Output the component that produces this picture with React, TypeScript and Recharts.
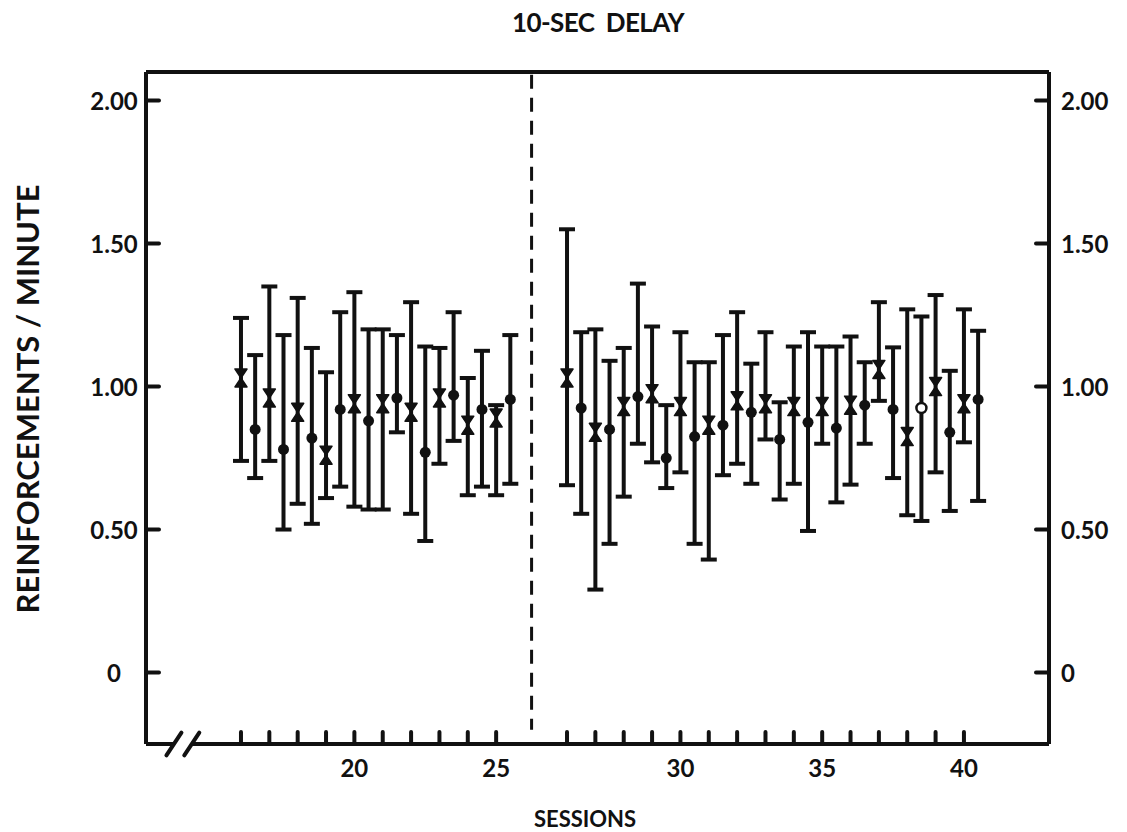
import React from 'react';
import { ComposedChart, Scatter, ErrorBar, XAxis, YAxis, ReferenceLine } from 'recharts';

// ---- data ----
const sessions = [
  16, 16.5, 17, 17.5, 18, 18.5, 19, 19.5, 20, 20.5,
  21, 21.5, 22, 22.5, 23, 23.5, 24, 24.5, 25, 25.5,
  26, 26.5, 27, 27.5, 28, 28.5, 29, 29.5, 30, 30.5,
  31, 31.5, 32, 32.5, 33, 33.5, 34, 34.5, 35, 35.5,
  36, 36.5, 37, 37.5, 38, 38.5, 39, 39.5, 40, 40.5,
];
const means = [
  1.03, 0.85, 0.96, 0.78, 0.91, 0.82, 0.76, 0.92, 0.94, 0.88,
  0.94, 0.96, 0.91, 0.77, 0.96, 0.97, 0.865, 0.92, 0.89, 0.955,
  1.03, 0.925, 0.84, 0.85, 0.93, 0.965, 0.975, 0.75, 0.93, 0.825,
  0.865, 0.865, 0.95, 0.91, 0.94, 0.815, 0.93, 0.875, 0.93, 0.855,
  0.935, 0.935, 1.06, 0.92, 0.825, 0.925, 1.0, 0.84, 0.94, 0.955,
];
const uppers = [
  1.24, 1.11, 1.35, 1.18, 1.31, 1.135, 1.05, 1.26, 1.33, 1.2,
  1.2, 1.18, 1.295, 1.14, 1.135, 1.26, 1.03, 1.125, 0.935, 1.18,
  1.55, 1.19, 1.2, 1.09, 1.135, 1.36, 1.21, 0.935, 1.19, 1.085,
  1.085, 1.18, 1.26, 1.08, 1.19, 0.945, 1.14, 1.19, 1.14, 1.14,
  1.175, 1.085, 1.295, 1.137, 1.27, 1.245, 1.32, 1.055, 1.27, 1.195,
];
const lowers = [
  0.74, 0.68, 0.74, 0.5, 0.59, 0.52, 0.61, 0.65, 0.58, 0.57,
  0.57, 0.84, 0.555, 0.46, 0.73, 0.81, 0.62, 0.65, 0.62, 0.66,
  0.655, 0.555, 0.29, 0.45, 0.615, 0.8, 0.735, 0.645, 0.7, 0.45,
  0.395, 0.69, 0.73, 0.66, 0.815, 0.605, 0.66, 0.495, 0.8, 0.595,
  0.657, 0.8, 0.95, 0.68, 0.55, 0.53, 0.7, 0.565, 0.805, 0.6,
];
const hollowSessions = [38.5];

const yTicks = [0, 0.5, 1, 1.5, 2];
const yTickLabels = ['0', '0.50', '1.00', '1.50', '2.00'];
const xTickSessions = [16, 17, 18, 19, 20, 21, 22, 23, 24, 25, 26, 27, 28, 29, 30, 31, 32, 33, 34, 35, 36, 37, 38, 39, 40];
const xLabelSessions = [20, 25, 30, 35, 40];

// axis has a break between the two phases
const LAST_BEFORE_BREAK = 25.5;
const BREAK_SHIFT = 1.5;
const toPos = (s: number) => (s > LAST_BEFORE_BREAK ? s + BREAK_SHIFT : s);
const PHASE_LINE_POS = 26.25;

const X_DOMAIN: [number, number] = [12.65, 44.5];
const Y_DOMAIN: [number, number] = [-0.25, 2.1];

const rows = sessions.map((s, i) => ({
  session: s,
  pos: toPos(s),
  mean: means[i],
  high: uppers[i],
  low: lowers[i],
  hollow: hollowSessions.includes(s),
}));
const hollowRows = rows.filter((r) => r.hollow);

const FONT = 'Lato, "DejaVu Sans", sans-serif';
const INK = '#111';

const Marker = (props: any) => {
  const { cx, cy, payload } = props;
  if (cx == null || cy == null) return null;
  if (payload.hollow) return <g />;
  if (Number.isInteger(payload.session)) {
    const w = 6;
    const h = 9;
    return (
      <path
        d={`M${cx - w},${cy - h} L${cx + w},${cy - h} L${cx},${cy} Z M${cx - w},${cy + h} L${cx + w},${cy + h} L${cx},${cy} Z`}
        fill={INK}
        stroke={INK}
        strokeWidth={1.5}
        strokeLinejoin="round"
      />
    );
  }
  return <circle cx={cx} cy={cy} r={5.5} fill={INK} />;
};

const HollowMarker = (props: any) => {
  const { cx, cy } = props;
  if (cx == null || cy == null) return null;
  return <circle cx={cx} cy={cy} r={5} fill="#fff" stroke={INK} strokeWidth={2.5} />;
};

const LeftTick = (props: any) => {
  const { x, y, payload } = props;
  const idx = yTicks.indexOf(payload.value);
  return (
    <g>
      <line x1={x} x2={x + 13} y1={y} y2={y} stroke={INK} strokeWidth={4} strokeLinecap="round" />
      <text x={x - 32} y={y} textAnchor="middle" dominantBaseline="central" fontFamily={FONT} fontWeight={700} fontSize={24} fill={INK}>
        {yTickLabels[idx]}
      </text>
    </g>
  );
};

const RightTick = (props: any) => {
  const { x, y, payload } = props;
  const idx = yTicks.indexOf(payload.value);
  return (
    <g>
      <line x1={x} x2={x - 13} y1={y} y2={y} stroke={INK} strokeWidth={4} strokeLinecap="round" />
      <text x={x + 12} y={y} textAnchor="start" dominantBaseline="central" fontFamily={FONT} fontWeight={700} fontSize={24} fill={INK}>
        {yTickLabels[idx]}
      </text>
    </g>
  );
};

const BottomTick = (props: any) => {
  const { x, y, payload } = props;
  const pos = payload.value;
  const session = pos > LAST_BEFORE_BREAK + BREAK_SHIFT ? pos - BREAK_SHIFT : pos;
  const label = xLabelSessions.includes(session) ? String(session) : '';
  return (
    <g>
      <line x1={x} x2={x} y1={y} y2={y - 12} stroke={INK} strokeWidth={4} strokeLinecap="round" />
      {label && (
        <text x={x} y={y + 23} textAnchor="middle" dominantBaseline="central" fontFamily={FONT} fontWeight={700} fontSize={24} fill={INK}>
          {label}
        </text>
      )}
    </g>
  );
};

const axisStroke = { stroke: INK, strokeWidth: 4 };

export default function App() {
  return (
    <div style={{ position: 'absolute', left: 0, top: 0, width: 1127, height: 832, background: '#fff' }}>
      <ComposedChart
        width={1127}
        height={832}
        margin={{ top: 72, right: 18, bottom: 48, left: 86 }}
      >
        <XAxis
          xAxisId="b"
          type="number"
          dataKey="pos"
          domain={X_DOMAIN}
          allowDataOverflow
          ticks={xTickSessions.map(toPos)}
          interval={0}
          axisLine={false}
          tickLine={false}
          tickSize={0}
          tickMargin={0}
          height={40}
          tick={<BottomTick />}
        />
        <YAxis
          yAxisId="l"
          type="number"
          domain={Y_DOMAIN}
          allowDataOverflow
          ticks={yTicks}
          interval={0}
          axisLine={axisStroke}
          tickLine={false}
          tickSize={0}
          tickMargin={0}
          width={60}
          tick={<LeftTick />}
        />
        <YAxis
          yAxisId="r"
          orientation="right"
          type="number"
          domain={Y_DOMAIN}
          allowDataOverflow
          ticks={yTicks}
          interval={0}
          axisLine={axisStroke}
          tickLine={false}
          tickSize={0}
          tickMargin={0}
          width={60}
          tick={<RightTick />}
        />

        {/* top frame line */}
        <ReferenceLine xAxisId="b" yAxisId="l" y={Y_DOMAIN[1]} stroke={INK} strokeWidth={4} ifOverflow="visible" />
        {/* bottom frame line with axis break */}
        <ReferenceLine xAxisId="b" yAxisId="l" ifOverflow="visible" stroke={INK} strokeWidth={4}
          segment={[{ x: X_DOMAIN[0], y: Y_DOMAIN[0] }, { x: 13.62, y: Y_DOMAIN[0] }]} />
        <ReferenceLine xAxisId="b" yAxisId="l" ifOverflow="visible" stroke={INK} strokeWidth={4}
          segment={[{ x: 14.28, y: Y_DOMAIN[0] }, { x: X_DOMAIN[1], y: Y_DOMAIN[0] }]} />
        <ReferenceLine xAxisId="b" yAxisId="l" ifOverflow="visible" stroke={INK} strokeWidth={4} strokeLinecap="round"
          segment={[{ x: 13.37, y: -0.29 }, { x: 13.9, y: -0.21 }]} />
        <ReferenceLine xAxisId="b" yAxisId="l" ifOverflow="visible" stroke={INK} strokeWidth={4} strokeLinecap="round"
          segment={[{ x: 14.0, y: -0.29 }, { x: 14.53, y: -0.21 }]} />
        {/* phase change */}
        <ReferenceLine xAxisId="b" yAxisId="l" ifOverflow="visible" stroke={INK} strokeWidth={3} strokeDasharray="14 9"
          segment={[{ x: PHASE_LINE_POS, y: 2.09 }, { x: PHASE_LINE_POS, y: -0.2 }]} />

        <Scatter xAxisId="b" yAxisId="l" data={rows} dataKey="mean" shape={<Marker />} isAnimationActive={false}>
          <ErrorBar
            direction="y"
            dataKey={(d: any) => [d.mean - d.low, d.high - d.mean]}
            width={8}
            stroke={INK}
            strokeWidth={4}
            isAnimationActive={false}
          />
        </Scatter>
        <Scatter xAxisId="b" yAxisId="l" data={hollowRows} dataKey="mean" shape={<HollowMarker />} isAnimationActive={false} />
      </ComposedChart>

      <div style={{ position: 'absolute', left: 598, top: 22, transform: 'translate(-50%,-50%)', fontFamily: FONT, fontWeight: 700, fontSize: 26, letterSpacing: -0.6, color: INK, whiteSpace: 'nowrap', lineHeight: 1 }}>
        10-SEC&nbsp; DELAY
      </div>
      <div style={{ position: 'absolute', left: 27, top: 399, transform: 'translate(-50%,-50%) rotate(-90deg)', fontFamily: FONT, fontWeight: 700, fontSize: 31, color: INK, whiteSpace: 'nowrap', lineHeight: 1 }}>
        REINFORCEMENTS / MINUTE
      </div>
      <div style={{ position: 'absolute', left: 585, top: 819, transform: 'translate(-50%,-50%)', fontFamily: FONT, fontWeight: 700, fontSize: 22, color: INK, whiteSpace: 'nowrap', lineHeight: 1 }}>
        SESSIONS
      </div>
    </div>
  );
}
